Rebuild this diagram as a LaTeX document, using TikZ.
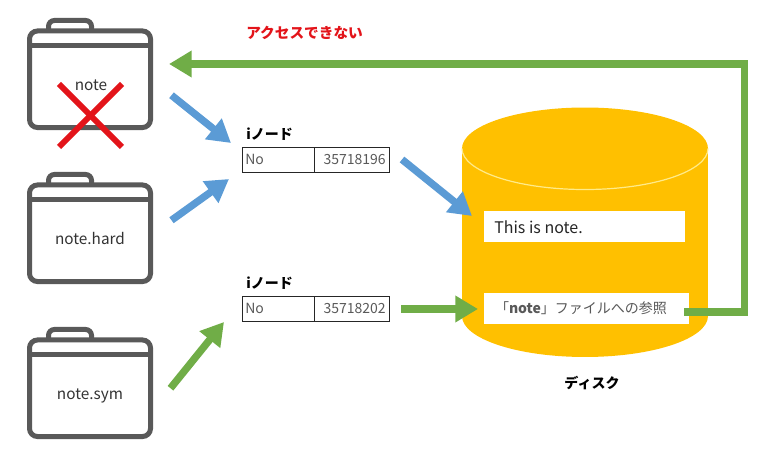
\documentclass[tikz,border=0pt]{standalone}
\usepackage{fontspec}
\setmainfont{Noto Sans CJK JP}
\usetikzlibrary{arrows.meta,positioning}

\definecolor{folderGray}{HTML}{595959}
\definecolor{arrowBlue}{HTML}{5B9BD5}
\definecolor{arrowGreen}{HTML}{70AD47}
\definecolor{crossRed}{HTML}{E3141A}
\definecolor{diskGold}{HTML}{FFC000}
\definecolor{diskEdge}{HTML}{FFEB8A}

\tikzset{
    folder/.style={draw=folderGray, line width=3.75pt, rectangle, rounded corners=6pt, minimum width=90.75pt, minimum height=72.4pt, outer sep=0pt, inner sep=0pt},
    folderline/.style={draw=folderGray, line width=3.75pt},
    foldertext/.style={font=\fontsize{11.5}{13}\selectfont, text=black!80, inner sep=0pt},
    flow/.style={line width=5.5pt, -{Triangle[length=17pt,width=19pt]}},
    cell/.style={draw=black!85, line width=0.7pt, rectangle, minimum height=18.75pt, outer sep=0pt, inner sep=2.5pt, font=\fontsize{10.5}{12}\selectfont, text=folderGray},
    whitebox/.style={fill=white, rectangle, outer sep=0pt, inner sep=0pt, minimum height=23pt},
    heading/.style={font=\bfseries\fontsize{10.5}{12}\selectfont, inner sep=0pt}
}
\newcommand{\foldertop}[1]{
    \draw [folderline, rounded corners=4.5pt] ([shift={(19,0)}]#1.north west) -- ++(0,-10.5) -- ++(43,0) -- ++(0,10.5);
    \draw [folderline] ([shift={(0,14.5)}]#1.north west) -- ([shift={(0,14.5)}]#1.north east);
}

\begin{document}
\begin{tikzpicture}[x=0.75pt, y=-0.75pt]
    \useasboundingbox (0,0) rectangle (776,459);

    \node (note) [folder] at (90,79.25) {};
    \node (hard) [folder] at (90,233.25) {};
    \node (sym) [folder] at (90,388.25) {};
    \foldertop{note}
    \foldertop{hard}
    \foldertop{sym}
    \node (noteText) [foldertext] at (91,85) {note};
    \node (hardText) [foldertext] at (90,239) {note.hard};
    \node (symText) [foldertext] at (90,396) {note.sym};

    \draw [crossRed, line width=4.5pt] (59,84) -- (122,147);
    \draw [crossRed, line width=4.5pt] (122,84) -- (59,147);

    \node (noA) [cell, minimum width=54pt, text width=49pt, align=left] at (278,159.5) {No};
    \node (valA) [cell, right=0pt of noA, minimum width=56.25pt, text width=51.25pt, align=right] {35718196};
    \node (noB) [cell, minimum width=54pt, text width=49pt, align=left] at (278,308.5) {No};
    \node (valB) [cell, right=0pt of noB, minimum width=56.25pt, text width=51.25pt, align=right] {35718202};
    \node (titleA) [heading, above=5pt of noA.north west, anchor=south west, xshift=3pt] {iノード};
    \node (titleB) [heading, above=5pt of noB.north west, anchor=south west, xshift=3pt] {iノード};

    \node (disk) [fill=diskGold, rectangle, minimum width=184.5pt, minimum height=125.6pt, outer sep=0pt] at (585,232.25) {};
    \fill [diskGold] (disk.north) ellipse [x radius=123, y radius=41];
    \fill [diskGold] (disk.south) ellipse [x radius=123, y radius=41];
    \draw [diskEdge, line width=0.9pt] (disk.north west) arc [start angle=180, end angle=0, x radius=123, y radius=41];
    \node (diskText) [heading] at (592,383) {ディスク};

    \node (content) [whitebox, minimum width=150.75pt] at (584.5,226.5) {};
    \node (contentText) [anchor=west, inner sep=0pt, font=\fontsize{12}{14}\selectfont, text=black!85] at (494,227) {This is note.};
    \node (reference) [whitebox, minimum width=153.75pt] at (586.5,308.5) {};
    \node (referenceText) [font=\fontsize{10.5}{12}\selectfont, text=folderGray, inner sep=0pt] at (581,308) {「\textbf{note}」ファイルへの参照};

    \node (denied) [heading, text=crossRed, font=\bfseries\fontsize{11}{13}\selectfont, anchor=west] at (246,33) {アクセスできない};

    \coordinate (bendA) at (744.5,312);
    \coordinate (bendB) at (744.5,64);

    \draw [flow, arrowBlue] ([shift={(21,16)}]note.east) -- ([shift={(-11,-16.5)}]noA.west);
    \draw [flow, arrowBlue] ([shift={(21,-13)}]hard.east) -- ([shift={(-13,19.5)}]noA.west);
    \draw [flow, arrowBlue] ([shift={(13,0)}]valA.east) -- ([shift={(-12,-10.5)}]content.west);
    \draw [flow, arrowGreen] ([shift={(20,0)}]sym.east) -- ([shift={(-18,13.5)}]noB.west);
    \draw [flow, arrowGreen] ([shift={(12,0.5)}]valB.east) -- ([shift={(-6,0.5)}]reference.west);
    \draw [flow, arrowGreen] ([shift={(-5,3.5)}]reference.east) -- (bendA) -- (bendB) -- ([shift={(18.5,-15.25)}]note.east);
\end{tikzpicture}
\end{document}
